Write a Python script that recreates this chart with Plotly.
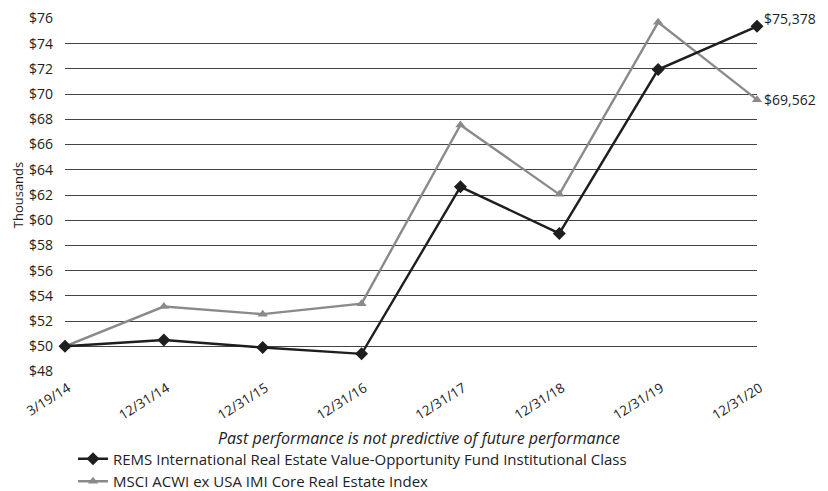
import plotly.graph_objects as go

dates = ["3/19/14", "12/31/14", "12/31/15", "12/31/16", "12/31/17", "12/31/18", "12/31/19", "12/31/20"]
fund_values = [50.0, 50.5, 49.9, 49.4, 62.65, 58.95, 71.95, 75.378]
index_values = [50.0, 53.15, 52.55, 53.38, 67.55, 62.05, 75.7, 69.562]
fund_name = "REMS International Real Estate Value-Opportunity Fund Institutional Class"
index_name = "MSCI ACWI ex USA IMI Core Real Estate Index"
end_labels = ["$75,378", "$69,562"]
y_ticks = list(range(48, 77, 2))

FONT = "Open Sans, sans-serif"
fig = go.Figure()
fig.add_trace(go.Scatter(x=dates, y=index_values, name=index_name, mode="lines+markers",
                         legendgroup="b", legendrank=2,
                         line=dict(color="#8a8a8a", width=2.4),
                         marker=dict(symbol="triangle-up", size=9, color="#8a8a8a"),
                         cliponaxis=False))
fig.add_trace(go.Scatter(x=dates, y=fund_values, name=fund_name, mode="lines+markers",
                         legendgroup="a", legendrank=1,
                         line=dict(color="#1e1e1e", width=2.4),
                         marker=dict(symbol="diamond", size=10, color="#1e1e1e"),
                         cliponaxis=False))

fig.add_annotation(x=dates[-1], y=fund_values[-1], text=end_labels[0], xanchor="left",
                   xshift=5, yshift=8, showarrow=False, font=dict(size=14, color="#222", family=FONT))
fig.add_annotation(x=dates[-1], y=index_values[-1], text=end_labels[1], xanchor="left",
                   xshift=5, showarrow=False, font=dict(size=14, color="#222", family=FONT))
fig.add_annotation(x=0.512, xref="paper", y=-0.186, yref="paper", yanchor="middle",
                   text="<i>Past performance is not predictive of future performance</i>",
                   showarrow=False, font=dict(size=16, color="#222", family=FONT))

fig.update_layout(
    width=828, height=491,
    margin=dict(l=65, r=71, t=18, b=119),
    plot_bgcolor="white", paper_bgcolor="white",
    font=dict(family=FONT, size=13, color="#222"),
    xaxis=dict(type="category", range=[0, 7], showgrid=False, showline=False, ticks="",
               tickangle=-32, tickfont=dict(size=13.5), automargin=False,
               ticklabelshift=3, ticklabelstandoff=5),
    yaxis=dict(range=[47.96, 76.04], tickvals=y_ticks, ticktext=[f"${v}" for v in y_ticks],
               showgrid=True, gridcolor="#444", gridwidth=1, zeroline=False, showline=False,
               tickfont=dict(size=14), ticklabelstandoff=11, automargin=False,
               title=dict(text="Thousands", font=dict(size=13), standoff=2)),
    legend=dict(orientation="v", x=0.0116, xanchor="left", yref="container", y=0.0988, yanchor="top",
                font=dict(size=15, family=FONT), tracegroupgap=0),
    showlegend=True,
)
fig.write_html("out.html", config={"displayModeBar": False},
               post_script="document.body.style.margin='0';document.body.style.overflow='hidden';")
